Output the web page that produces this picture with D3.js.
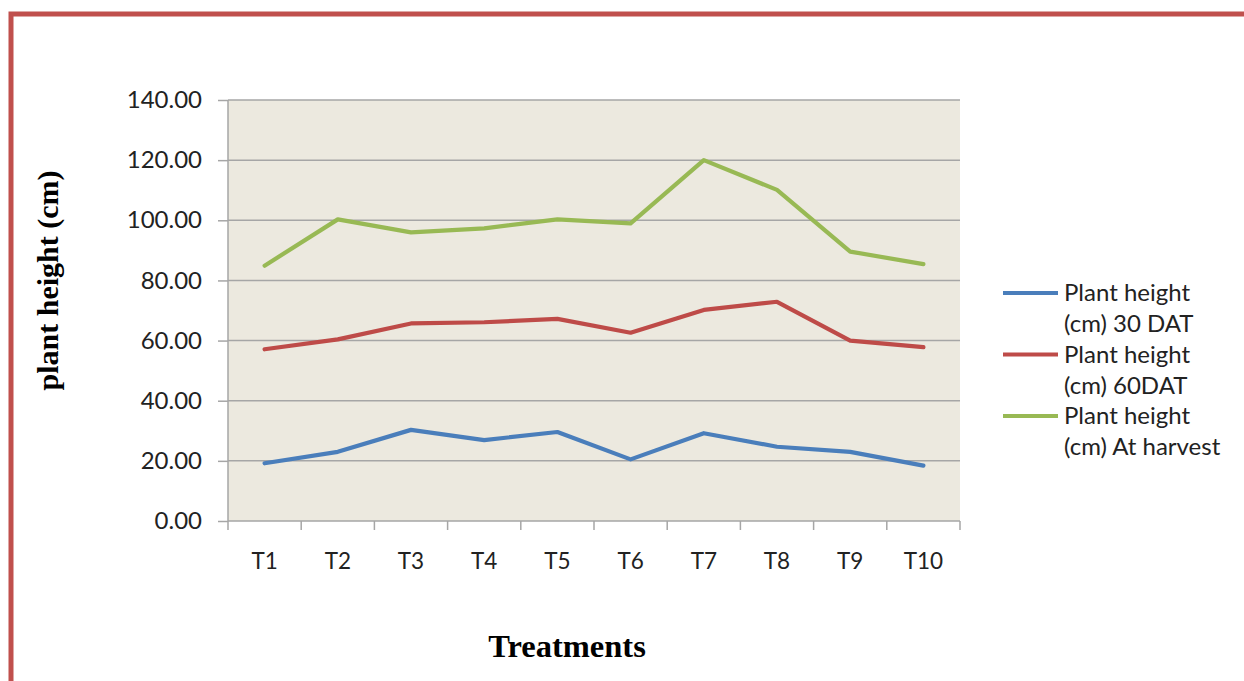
<!DOCTYPE html>
<html>
<head>
<meta charset="utf-8"/>
<title>Plant height</title>
<script src="https://cdn.jsdelivr.net/npm/d3@7"></script>
<style>
 body { margin: 0; background: #fff; }
 svg text { font-family: Lato, "Open Sans", sans-serif; fill: #222; }
 .title { font-family: "Liberation Serif", "DejaVu Serif", serif; font-weight: bold; fill: #000; }
</style>
</head>
<body>
<div id="chart"></div>
<script>
 // categories and series
 var treatments = ['T1', 'T2', 'T3', 'T4', 'T5', 'T6', 'T7', 'T8', 'T9', 'T10'];
 var dat30 = [19.2, 23.0, 30.3, 26.9, 29.6, 20.5, 29.2, 24.7, 23.0, 18.4];
 var dat60 = [57.1, 60.4, 65.7, 66.1, 67.2, 62.6, 70.2, 72.9, 60.0, 57.8];
 var harvest = [84.9, 100.3, 96.0, 97.3, 100.3, 99.0, 120.0, 110.1, 89.6, 85.4];
 var yTicks = [0, 20, 40, 60, 80, 100, 120, 140];
 var seriesNames = [['Plant height', '(cm) 30 DAT'], ['Plant height', '(cm) 60DAT'], ['Plant height', '(cm) At harvest']];
 var seriesColors = ['#4a7ebb', '#be4b48', '#98b954'];

 var W = 1244, H = 681;
 var plot = {left: 228, right: 960, top: 100, bottom: 521};

 var svg = d3.select('#chart').append('svg')
     .attr('width', W).attr('height', H);

 // red frame round the chart
 svg.append('path')
     .attr('d', 'M11,' + H + ' V14 H' + W)
     .attr('fill', 'none')
     .attr('stroke', '#c0504d')
     .attr('stroke-width', 5);

 var x = d3.scaleBand().domain(treatments).range([plot.left, plot.right]);
 var y = d3.scaleLinear().domain([0, 140]).range([plot.bottom, plot.top]);

 svg.append('rect')
     .attr('x', plot.left).attr('y', plot.top)
     .attr('width', plot.right - plot.left).attr('height', plot.bottom - plot.top)
     .attr('fill', '#ece9df');

 // gridlines
 svg.append('g').selectAll('line')
     .data(yTicks.filter(function(d) { return d > 0; }))
     .enter().append('line')
     .attr('x1', plot.left).attr('x2', plot.right)
     .attr('y1', function(d) { return y(d); }).attr('y2', function(d) { return y(d); })
     .attr('stroke', '#8e8e8e').attr('stroke-width', 1.3);

 // y axis
 var yAxis = svg.append('g')
     .attr('transform', 'translate(' + plot.left + ',0)')
     .call(d3.axisLeft(y).tickValues(yTicks).tickSize(10).tickPadding(16)
           .tickFormat(d3.format('.2f')));
 yAxis.selectAll('text').style('font-size', '24px');

 // x axis, ticks at the category boundaries
 var xAxis = svg.append('g')
     .attr('transform', 'translate(0,' + plot.bottom + ')')
     .call(d3.axisBottom(x).tickSize(0).tickPadding(32));
 xAxis.selectAll('text').style('font-size', '22.5px');
 xAxis.selectAll('.boundary')
     .data(d3.range(treatments.length + 1))
     .enter().append('line')
     .attr('x1', function(i) { return plot.left + i * x.step(); })
     .attr('x2', function(i) { return plot.left + i * x.step(); })
     .attr('y1', 0).attr('y2', 9);

 svg.selectAll('.domain, .tick line, g line').attr('stroke', '#a6a6a6').attr('stroke-width', 1.5);
 yAxis.select('.domain').attr('d', 'M0,' + plot.top + 'V' + plot.bottom);
 xAxis.select('.domain').attr('d', 'M' + plot.left + ',0H' + plot.right);

 // lines
 var line = d3.line()
     .x(function(d, i) { return x(treatments[i]) + x.bandwidth() / 2; })
     .y(function(d) { return y(d); });

 [dat30, dat60, harvest].forEach(function(s, k) {
     svg.append('path')
         .datum(s)
         .attr('d', line)
         .attr('fill', 'none')
         .attr('stroke', seriesColors[k])
         .attr('stroke-width', 4.2)
         .attr('stroke-linejoin', 'round')
         .attr('stroke-linecap', 'round');
 });

 // legend
 var legend = svg.append('g').attr('transform', 'translate(1003,293)');
 seriesNames.forEach(function(name, k) {
     var g = legend.append('g').attr('transform', 'translate(0,' + (k * 61.5) + ')');
     g.append('line').attr('x1', 0).attr('x2', 55).attr('y1', 0).attr('y2', 0)
         .attr('stroke', seriesColors[k]).attr('stroke-width', 4.2);
     g.selectAll('text').data(name).enter().append('text')
         .attr('x', 61).attr('y', function(d, i) { return i * 31 + 8; })
         .style('font-size', '24px')
         .text(function(d) { return d; });
 });

 // axis titles
 svg.append('text').attr('class', 'title')
     .attr('transform', 'translate(58,' + ((plot.top + plot.bottom) / 2 - 30) + ') rotate(-90)')
     .attr('text-anchor', 'middle')
     .style('font-size', '30px')
     .text('plant height (cm)');

 svg.append('text').attr('class', 'title')
     .attr('x', 567).attr('y', 657)
     .attr('text-anchor', 'middle')
     .style('font-size', '32.5px')
     .text('Treatments');
</script>
</body>
</html>
